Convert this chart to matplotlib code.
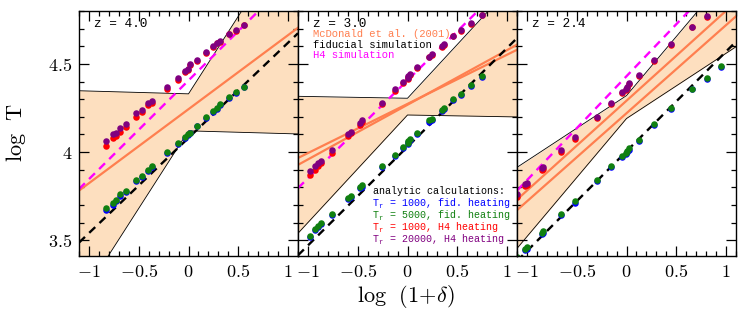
import numpy as np
import matplotlib
matplotlib.use("Agg")
import matplotlib.pyplot as plt
from matplotlib.ticker import MultipleLocator, FixedLocator, FixedFormatter

plt.rcParams["mathtext.fontset"] = "cm"
plt.rcParams["font.family"] = ["DejaVu Serif"]

# --- data ------------------------------------------------------------------
redshifts = ["z = 4.0", "z = 3.0", "z = 2.4"]

# McDonald et al. (2001) band: range of log T0 and of slope (gamma - 1)
band_logT0 = [(4.12, 4.33), (4.21, 4.305), (4.19, 4.32)]
band_slope = [(-0.016, 0.88), (-0.01, 0.61), (0.37, 0.67)]

# McDonald fit lines (intercept, slope) per panel
mcd_lines = [
    [(4.243, 0.42)],
    [(4.273, 0.279), (4.268, 0.31)],
    [(4.291, 0.51), (4.22, 0.50)],
]
# fiducial simulation (black dashed) and H4 simulation (magenta dashed)
fid_line = [(4.08, 0.54), (4.03, 0.56), (4.004, 0.566)]
h4_line = [(4.406, 0.56), (4.407, 0.556), (4.43, 0.59)]

# analytic calculations, per panel
pts_x = [
    [-0.83, -0.76, -0.73, -0.69, -0.63, -0.53, -0.47, -0.41, -0.37, -0.22, -0.11,
     -0.04, -0.01, 0.02, 0.09, 0.18, 0.25, 0.29, 0.32, 0.41, 0.48, 0.56],
    [-0.98, -0.93, -0.90, -0.87, -0.76, -0.60, -0.57, -0.48, -0.46, -0.26, -0.13,
     -0.05, 0.00, 0.01, 0.03, 0.10, 0.22, 0.25, 0.35, 0.37, 0.46, 0.54, 0.64, 0.75],
    [-1.10, -1.02, -1.00, -0.85, -0.84, -0.66, -0.52, -0.30, -0.16, -0.05, -0.01,
     0.00, 0.03, 0.13, 0.28, 0.45, 0.66, 0.81, 0.95],
]
tr1000_fid = [
    [3.670, 3.700, 3.720, 3.750, 3.775, 3.833, 3.858, 3.893, 3.913, 3.993, 4.044,
     4.080, 4.095, 4.105, 4.145, 4.195, 4.226, 4.246, 4.266, 4.306, 4.336, 4.366],
    [3.517, 3.557, 3.572, 3.593, 3.643, 3.733, 3.743, 3.793, 3.803, 3.913, 3.978,
     4.023, 4.043, 4.058, 4.068, 4.103, 4.173, 4.183, 4.233, 4.243, 4.293, 4.323,
     4.373, 4.423],
    [3.397, 3.442, 3.452, 3.532, 3.542, 3.643, 3.713, 3.833, 3.914, 3.974, 3.989,
     3.999, 4.014, 4.064, 4.155, 4.245, 4.355, 4.415, 4.485],
]
tr5000_fid = [
    [3.680, 3.710, 3.730, 3.760, 3.780, 3.840, 3.865, 3.900, 3.920, 4.000, 4.050,
     4.085, 4.100, 4.110, 4.150, 4.200, 4.230, 4.250, 4.270, 4.310, 4.340, 4.370],
    [3.525, 3.565, 3.580, 3.600, 3.650, 3.740, 3.750, 3.800, 3.810, 3.920, 3.985,
     4.030, 4.050, 4.065, 4.075, 4.110, 4.180, 4.190, 4.240, 4.250, 4.300, 4.330,
     4.380, 4.430],
    [3.405, 3.450, 3.460, 3.540, 3.550, 3.650, 3.720, 3.840, 3.920, 3.980, 3.995,
     4.005, 4.020, 4.070, 4.160, 4.250, 4.360, 4.420, 4.490],
]
tr1000_h4 = [
    [4.035, 4.080, 4.090, 4.115, 4.140, 4.200, 4.225, 4.265, 4.277, 4.360, 4.410,
     4.452, 4.463, 4.493, 4.515, 4.560, 4.595, 4.616, 4.626, 4.667, 4.688, 4.718],
    [3.870, 3.900, 3.920, 3.935, 3.995, 4.090, 4.105, 4.155, 4.170, 4.272, 4.348,
     4.394, 4.415, 4.425, 4.435, 4.476, 4.537, 4.552, 4.598, 4.608, 4.658, 4.688,
     4.728, 4.778],
    [3.745, 3.805, 3.810, 3.897, 3.902, 3.998, 4.075, 4.192, 4.273, 4.334, 4.354,
     4.364, 4.385, 4.430, 4.516, 4.607, 4.707, 4.767, 4.827],
]
tr20000_h4 = [
    [4.060, 4.100, 4.110, 4.135, 4.160, 4.220, 4.240, 4.280, 4.290, 4.370, 4.420,
     4.460, 4.470, 4.500, 4.520, 4.565, 4.600, 4.620, 4.630, 4.670, 4.690, 4.720],
    [3.890, 3.920, 3.940, 3.950, 4.010, 4.100, 4.115, 4.165, 4.180, 4.280, 4.355,
     4.400, 4.420, 4.430, 4.440, 4.480, 4.540, 4.555, 4.600, 4.610, 4.660, 4.690,
     4.730, 4.780],
    [3.760, 3.820, 3.825, 3.910, 3.915, 4.010, 4.085, 4.200, 4.280, 4.340, 4.360,
     4.370, 4.390, 4.435, 4.520, 4.610, 4.710, 4.770, 4.830],
]

xticks = [-1, -0.5, 0, 0.5, 1]
xticklabels = ["$-1$", "$-0.5$", "$0$", "$0.5$", "$1$"]
yticks = [3.5, 4, 4.5]
yticklabels = ["$3.5$", "$4$", "$4.5$"]

# legend of the analytic calculations (T_r written as T + subscript r)
analytic_rows = ["= 1000, fid. heating", "= 5000, fid. heating",
                 "= 1000, H4 heating", "= 20000, H4 heating"]

BAND = "#fddfbf"
ORANGE = "#ff7f4f"
MAGENTA = "#ff00ff"
GREEN = "#108010"
PURPLE = "#800080"
MONO = "Liberation Mono"
analytic_colors = ["blue", GREEN, "red", PURPLE]

fig = plt.figure(figsize=(7.47, 3.11), dpi=100)
W, H = 747.0, 311.0
xlo, xhi = -1.1, 1.1
ylo, yhi = 3.41, 4.8
xx = np.linspace(xlo, xhi, 221)

for i in range(3):
    left = 79 + 219 * i
    ax = fig.add_axes([left / W, 1 - 256 / H, 219 / W, 245 / H])
    t_lo, t_hi = band_logT0[i]
    s_lo, s_hi = band_slope[i]
    upper = np.maximum(t_hi + s_lo * xx, t_hi + s_hi * xx)
    lower = np.minimum(t_lo + s_lo * xx, t_lo + s_hi * xx)
    ax.fill_between(xx, lower, upper, color=BAND, lw=0, zorder=1)
    ax.plot(xx, upper, color="black", lw=0.6, zorder=2)
    ax.plot(xx, lower, color="black", lw=0.6, zorder=2)

    for b, m in mcd_lines[i]:
        ax.plot(xx, b + m * xx, color=ORANGE, lw=1.6, zorder=3)
    b, m = fid_line[i]
    ax.plot(xx, b + m * xx, color="black", lw=1.7, ls=(0, (3.5, 2.5)), zorder=4)
    b, m = h4_line[i]
    ax.plot(xx, b + m * xx, color=MAGENTA, lw=1.7, ls=(0, (3.5, 2.5)), zorder=4)

    px = pts_x[i]
    ax.scatter(px, tr1000_fid[i], s=22, color="blue", lw=0, zorder=5)
    ax.scatter(px, tr5000_fid[i], s=22, color=GREEN, lw=0, zorder=6)
    ax.scatter(px, tr1000_h4[i], s=22, color="red", lw=0, zorder=5)
    ax.scatter(px, tr20000_h4[i], s=22, color=PURPLE, lw=0, zorder=6)

    ax.set_xlim(xlo, xhi)
    ax.set_ylim(ylo, yhi)
    ax.xaxis.set_major_locator(FixedLocator(xticks))
    ax.xaxis.set_major_formatter(FixedFormatter(xticklabels))
    ax.xaxis.set_minor_locator(MultipleLocator(0.1))
    ax.yaxis.set_major_locator(FixedLocator(yticks))
    ax.yaxis.set_minor_locator(MultipleLocator(0.1))
    if i == 0:
        ax.yaxis.set_major_formatter(FixedFormatter(yticklabels))
    else:
        ax.set_yticklabels([])
    ax.tick_params(which="both", direction="in", top=True, right=True,
                   labelsize=13, width=0.9, pad=5)
    ax.tick_params(which="major", length=7)
    ax.tick_params(which="minor", length=3.5)
    for sp in ax.spines.values():
        sp.set_linewidth(1.0)
        sp.set_zorder(10)

    ax.text(0.068, 0.947, redshifts[i], transform=ax.transAxes, fontsize=9.2,
            family=MONO, va="center", ha="left", zorder=11)
    if i == 1:
        ax.text(0.068, 0.905, "McDonald et al. (2001)", color=ORANGE, family=MONO,
                transform=ax.transAxes, fontsize=7.6, va="center", zorder=11)
        ax.text(0.068, 0.862, "fiducial simulation", color="black", family=MONO,
                transform=ax.transAxes, fontsize=7.6, va="center", zorder=11)
        ax.text(0.068, 0.821, "H4 simulation", color=MAGENTA, family=MONO,
                transform=ax.transAxes, fontsize=7.6, va="center", zorder=11)
        x0, y0, dy = 0.342, 0.265, 0.049
        ax.text(x0, y0, "analytic calculations:", color="black",
                transform=ax.transAxes, family=MONO, fontsize=7.2,
                va="center", zorder=11)
        for k, (txt, col) in enumerate(zip(analytic_rows, analytic_colors)):
            yk = y0 - dy * (k + 1)
            ax.text(x0, yk, "T", color=col, transform=ax.transAxes,
                    family=MONO, fontsize=7.2, va="center", zorder=11)
            ax.annotate("r", (x0, yk), xycoords="axes fraction",
                        xytext=(4.1, -2.2), textcoords="offset points",
                        color=col, family=MONO, fontsize=5.0, va="center",
                        zorder=11)
            ax.annotate(txt, (x0, yk), xycoords="axes fraction",
                        xytext=(12.0, 0), textcoords="offset points",
                        color=col, family=MONO, fontsize=7.2, va="center",
                        zorder=11)

fig.text(16 / W, 1 - 133 / H, r"$\mathrm{log\ \ T}$", rotation=90,
         ha="center", va="center", fontsize=16)
fig.text(406 / W, 1 - 296 / H, r"$\mathrm{log\ \ (1\!+\!}\delta\mathrm{)}$",
         ha="center", va="center", fontsize=16)

fig.savefig("out.png", dpi=100)
